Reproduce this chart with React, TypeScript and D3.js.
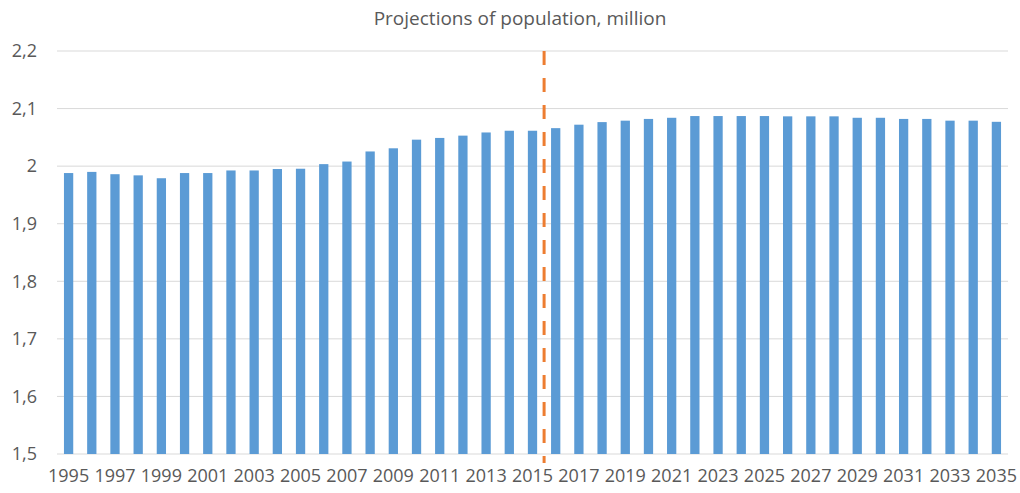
import React from "react";
import * as d3 from "d3";

const years: number[] = d3.range(1995, 2036);
const population: number[] = [
  1.988, 1.990, 1.986, 1.984, 1.979, 1.988, 1.988, 1.9925, 1.9925, 1.995,
  1.9955, 2.0035, 2.008, 2.0255, 2.031, 2.046, 2.049, 2.053, 2.0585, 2.0615,
  2.0615, 2.066, 2.072, 2.0765, 2.079, 2.082, 2.084, 2.087, 2.087, 2.087,
  2.087, 2.0865, 2.0865, 2.0865, 2.084, 2.084, 2.082, 2.082, 2.079, 2.079, 2.077,
];
const yTicks: number[] = [1.5, 1.6, 1.7, 1.8, 1.9, 2.0, 2.1, 2.2];
const xTickLabels: string[] = years.filter((y) => (y - 1995) % 2 === 0).map(String);
const dividerBetween: [string, string] = ["2015", "2016"];
const title = "Projections of population, million";

const W = 1020;
const H = 493;
const left = 57;
const right = 1008;
const top = 51;
const bottom = 454;
const font = "'Open Sans', sans-serif";

export default function App() {
  const x = d3
    .scaleBand<string>()
    .domain(years.map(String))
    .range([left, right])
    .paddingInner(0.6)
    .paddingOuter(0.3);
  const y = d3.scaleLinear().domain([1.5, 2.2]).range([bottom, top]);
  const fmt = (v: number) => (Math.round(v * 10) / 10).toString().replace(".", ",");
  const bw = x.bandwidth();
  const cx = (k: string) => (x(k) as number) + bw / 2;
  const divX = (cx(dividerBetween[0]) + cx(dividerBetween[1])) / 2;

  return (
    <svg
      width={W}
      height={H}
      style={{ position: "absolute", left: 0, top: 0, background: "#fff" }}
    >
      <text x={520} y={25} textAnchor="middle" fontFamily={font} fontSize={19} fill="#595959">
        {title}
      </text>
      {yTicks.map((t) => (
        <g key={t}>
          <line x1={left} x2={right} y1={y(t)} y2={y(t)} stroke="#D9D9D9" strokeWidth={1} />
          <text
            x={37}
            y={y(t)}
            dy="0.35em"
            textAnchor="end"
            fontFamily={font}
            fontSize={18}
            fill="#595959"
          >
            {fmt(t)}
          </text>
        </g>
      ))}
      {years.map((yr, i) => (
        <rect
          key={yr}
          x={x(String(yr))}
          y={y(population[i])}
          width={bw}
          height={y(1.5) - y(population[i])}
          fill="#5B9BD5"
        />
      ))}
      {xTickLabels.map((l) => (
        <text
          key={l}
          x={cx(l)}
          y={482}
          textAnchor="middle"
          fontFamily={font}
          fontSize={18}
          fill="#595959"
        >
          {l}
        </text>
      ))}
      <line
        x1={divX}
        x2={divX}
        y1={y(2.2)}
        y2={y(1.5) + 9}
        stroke="#ED7D31"
        strokeWidth={3}
        strokeDasharray="14 13"
      />
    </svg>
  );
}
